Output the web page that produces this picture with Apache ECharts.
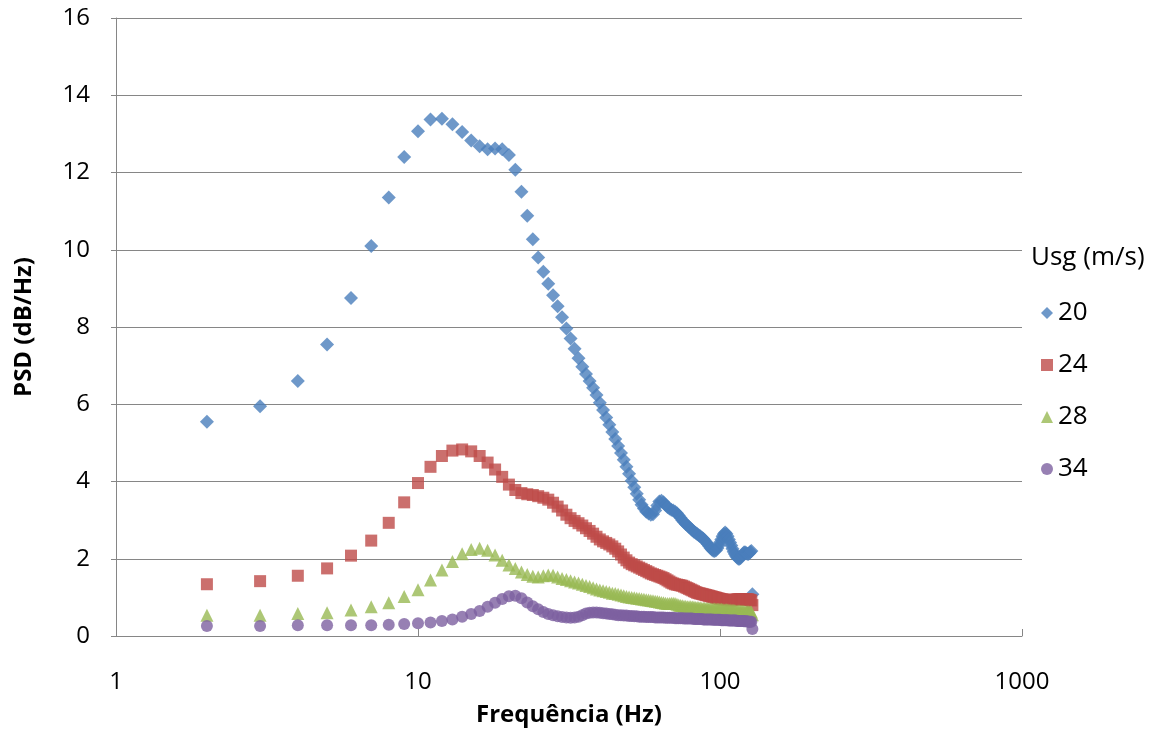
<!DOCTYPE html>
<html>
<head>
<meta charset="utf-8">
<script src="https://cdn.jsdelivr.net/npm/echarts@6/dist/echarts.min.js"></script>
<style>
    html, body { margin: 0; padding: 0; background: #fff; }
    #psdChart { width: 1175px; height: 737px; }
</style>
</head>
<body>
<div id="psdChart"></div>
<script>
    // frequencias (Hz)
    var freq = [2, 3, 4, 5, 6, 7, 8, 9, 10, 11, 12, 13, 14, 15, 16, 17, 18, 19, 20, 21,
        22, 23, 24, 25, 26, 27, 28, 29, 30, 31, 32, 33, 34, 35, 36, 37, 38, 39, 40, 41,
        42, 43, 44, 45, 46, 47, 48, 49, 50, 51, 52, 53, 54, 55, 56, 57, 58, 59, 60, 61,
        62, 63, 64, 65, 66, 67, 68, 69, 70, 71, 72, 73, 74, 75, 76, 77, 78, 79, 80, 81,
        82, 83, 84, 85, 86, 87, 88, 89, 90, 91, 92, 93, 94, 95, 96, 97, 98, 99, 100, 101,
        102, 103, 104, 105, 106, 107, 108, 109, 110, 111, 112, 113, 114, 115, 116, 117, 118, 119, 120, 121,
        122, 123, 124, 125, 126, 127, 128];

    // PSD (dB/Hz) por Usg
    var psd20 = [5.55, 5.95, 6.6, 7.55, 8.75, 10.1, 11.35, 12.4, 13.07, 13.37, 13.39, 13.25, 13.05, 12.83, 12.68, 12.6, 12.62, 12.6, 12.45, 12.07,
        11.5, 10.88, 10.27, 9.8, 9.43, 9.12, 8.82, 8.54, 8.25, 7.96, 7.7, 7.44, 7.19, 6.97, 6.78, 6.6, 6.43, 6.24, 6.04, 5.85,
        5.66, 5.47, 5.28, 5.1, 4.92, 4.74, 4.56, 4.38, 4.2, 4.02, 3.85, 3.68, 3.53, 3.4, 3.3, 3.22, 3.17, 3.14, 3.15, 3.25,
        3.38, 3.48, 3.5, 3.46, 3.4, 3.34, 3.3, 3.27, 3.25, 3.22, 3.18, 3.12, 3.06, 3.0, 2.95, 2.9, 2.86, 2.82, 2.78, 2.74,
        2.7, 2.67, 2.64, 2.61, 2.58, 2.55, 2.52, 2.48, 2.43, 2.38, 2.33, 2.28, 2.24, 2.21, 2.2, 2.22, 2.27, 2.34, 2.42, 2.5,
        2.58, 2.64, 2.68, 2.65, 2.58, 2.5, 2.42, 2.34, 2.26, 2.18, 2.12, 2.07, 2.03, 2.0, 2.0, 2.02, 2.07, 2.12, 2.16, 2.17,
        2.15, 2.13, 2.12, 2.14, 2.18, 2.2, 1.08];
    var psd24 = [1.34, 1.42, 1.56, 1.75, 2.08, 2.47, 2.93, 3.46, 3.96, 4.38, 4.66, 4.8, 4.83, 4.78, 4.66, 4.49, 4.31, 4.12, 3.92, 3.78,
        3.7, 3.67, 3.65, 3.62, 3.58, 3.53, 3.45, 3.35, 3.25, 3.14, 3.05, 2.98, 2.92, 2.86, 2.79, 2.72, 2.65, 2.57, 2.5, 2.45,
        2.41, 2.37, 2.32, 2.26, 2.19, 2.11, 2.03, 1.96, 1.9, 1.86, 1.83, 1.8, 1.77, 1.74, 1.71, 1.68, 1.65, 1.62, 1.6, 1.58,
        1.56, 1.54, 1.52, 1.5, 1.47, 1.44, 1.41, 1.38, 1.36, 1.34, 1.33, 1.32, 1.31, 1.3, 1.28, 1.26, 1.24, 1.22, 1.2, 1.18,
        1.16, 1.14, 1.12, 1.11, 1.1, 1.09, 1.08, 1.07, 1.06, 1.05, 1.04, 1.03, 1.02, 1.01, 1.0, 0.99, 0.98, 0.97, 0.96, 0.95,
        0.95, 0.94, 0.94, 0.93, 0.93, 0.92, 0.92, 0.92, 0.93, 0.93, 0.94, 0.94, 0.95, 0.95, 0.95, 0.95, 0.94, 0.94, 0.94, 0.94,
        0.95, 0.95, 0.95, 0.94, 0.93, 0.92, 0.8];
    var psd28 = [0.54, 0.54, 0.58, 0.6, 0.67, 0.76, 0.86, 1.02, 1.2, 1.45, 1.71, 1.93, 2.13, 2.24, 2.27, 2.22, 2.1, 1.96, 1.84, 1.75,
        1.66, 1.59, 1.55, 1.53, 1.56, 1.58, 1.57, 1.53, 1.49, 1.46, 1.43, 1.4, 1.37, 1.34, 1.31, 1.28, 1.25, 1.22, 1.19, 1.17,
        1.15, 1.13, 1.11, 1.1, 1.08, 1.06, 1.04, 1.02, 1.01, 1.0, 0.99, 0.98, 0.97, 0.96, 0.95, 0.94, 0.93, 0.92, 0.91, 0.9,
        0.89, 0.88, 0.87, 0.86, 0.85, 0.84, 0.84, 0.85, 0.85, 0.84, 0.82, 0.8, 0.79, 0.78, 0.77, 0.77, 0.76, 0.76, 0.76, 0.75,
        0.75, 0.74, 0.74, 0.73, 0.73, 0.72, 0.72, 0.72, 0.71, 0.71, 0.71, 0.7, 0.7, 0.7, 0.7, 0.7, 0.69, 0.69, 0.69, 0.69,
        0.68, 0.68, 0.68, 0.68, 0.67, 0.67, 0.67, 0.66, 0.66, 0.66, 0.66, 0.65, 0.65, 0.65, 0.65, 0.64, 0.64, 0.64, 0.64, 0.63,
        0.63, 0.63, 0.63, 0.62, 0.62, 0.62, 0.55];
    var psd34 = [0.26, 0.26, 0.28, 0.28, 0.28, 0.28, 0.29, 0.31, 0.33, 0.35, 0.39, 0.43, 0.5, 0.57, 0.65, 0.76, 0.86, 0.96, 1.03, 1.04,
        0.98, 0.87, 0.77, 0.69, 0.62, 0.57, 0.54, 0.51, 0.49, 0.48, 0.47, 0.48, 0.5, 0.54, 0.58, 0.6, 0.61, 0.61, 0.6, 0.59,
        0.58, 0.57, 0.56, 0.55, 0.54, 0.54, 0.53, 0.53, 0.52, 0.52, 0.51, 0.51, 0.5, 0.5, 0.5, 0.49, 0.49, 0.49, 0.49, 0.48,
        0.48, 0.48, 0.48, 0.48, 0.47, 0.47, 0.47, 0.47, 0.47, 0.46, 0.46, 0.46, 0.46, 0.46, 0.45, 0.45, 0.45, 0.45, 0.45, 0.45,
        0.44, 0.44, 0.44, 0.44, 0.44, 0.44, 0.43, 0.43, 0.43, 0.43, 0.43, 0.43, 0.43, 0.42, 0.42, 0.42, 0.42, 0.42, 0.42, 0.41,
        0.41, 0.41, 0.41, 0.41, 0.41, 0.4, 0.4, 0.4, 0.4, 0.4, 0.4, 0.4, 0.39, 0.39, 0.39, 0.39, 0.39, 0.39, 0.38, 0.38,
        0.38, 0.38, 0.37, 0.37, 0.37, 0.37, 0.18];

    var yTicks = [0, 2, 4, 6, 8, 10, 12, 14, 16];

    function pares(ys) {
        var out = [];
        for (var i = 0; i < freq.length; i++) {
            out.push([freq[i], ys[i]]);
        }
        return out;
    }

    var fonte = 'Open Sans';
    var chart = echarts.init(document.getElementById('psdChart'));

    var option = {
        backgroundColor: '#ffffff',
        animation: false,
        title: {
            text: 'Usg (m/s)',
            left: 1026,
            top: 240,
            textStyle: { fontFamily: fonte, fontSize: 26, fontWeight: 'normal', color: '#000' }
        },
        legend: {
            orient: 'vertical',
            left: 1036,
            top: 295,
            itemWidth: 12,
            itemHeight: 12,
            itemGap: 26,
            textStyle: { fontFamily: fonte, fontSize: 26, lineHeight: 26, color: '#000' },
            data: ['20', '24', '28', '34']
        },
        grid: {
            left: 116,
            right: 153,
            top: 18,
            bottom: 101,
            containLabel: false
        },
        xAxis: {
            type: 'log',
            logBase: 10,
            min: 1,
            max: 1000,
            name: 'Frequência (Hz)',
            nameLocation: 'middle',
            nameGap: 67,
            nameTextStyle: { fontFamily: fonte, fontSize: 24, fontWeight: 'bold', color: '#000' },
            axisLine: { lineStyle: { color: '#868686', width: 1 } },
            axisTick: { show: true, inside: true, length: 7, lineStyle: { color: '#868686' } },
            axisLabel: {
                margin: 34, fontFamily: fonte, fontSize: 24, color: '#000',
                formatter: function (v) { return String(Math.round(v)); }
            },
            splitLine: { show: false },
            minorTick: { show: false }
        },
        yAxis: {
            type: 'value',
            min: yTicks[0],
            max: yTicks[yTicks.length - 1],
            interval: 2,
            name: 'PSD (dB/Hz)',
            nameLocation: 'middle',
            nameGap: 80,
            nameTextStyle: { fontFamily: fonte, fontSize: 24, fontWeight: 'bold', color: '#000' },
            axisLine: { show: true, lineStyle: { color: '#868686', width: 1 } },
            axisTick: { show: true, length: 5, lineStyle: { color: '#868686' } },
            axisLabel: { margin: 26, fontFamily: fonte, fontSize: 24, color: '#000' },
            splitLine: { show: true, lineStyle: { color: '#868686', width: 1 } }
        },
        series: [
            { name: '20', type: 'scatter', symbol: 'diamond', symbolSize: 14, itemStyle: { color: '#4A7EBB' }, data: pares(psd20) },
            { name: '24', type: 'scatter', symbol: 'rect', symbolSize: 12, itemStyle: { color: '#BE4B48' }, data: pares(psd24) },
            { name: '28', type: 'scatter', symbol: 'triangle', symbolSize: 13, itemStyle: { color: '#98B954' }, data: pares(psd28) },
            { name: '34', type: 'scatter', symbol: 'circle', symbolSize: 12, itemStyle: { color: '#7D60A0' }, data: pares(psd34) }
        ]
    };

    chart.setOption(option);
</script>
</body>
</html>
